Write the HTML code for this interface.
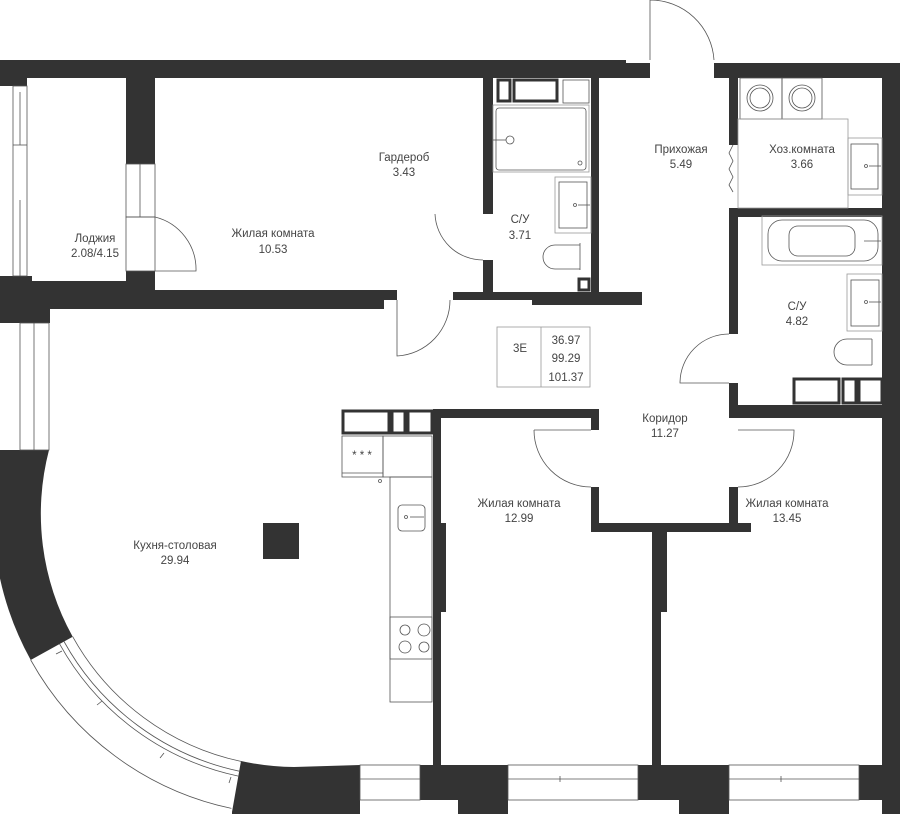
<!DOCTYPE html>
<html><head><meta charset="utf-8"><style>
html,body{margin:0;padding:0;background:#fff;}
svg{display:block}
text{font-family:"Liberation Sans",sans-serif;font-size:11.5px;fill:#444;text-anchor:middle}
</style></head><body>
<svg width="900" height="814" viewBox="0 0 900 814" xmlns="http://www.w3.org/2000/svg">
<g fill="#333">
<rect x="0" y="60" width="626" height="18"/>
<rect x="600" y="63" width="50" height="15"/>
<rect x="714" y="63" width="186" height="15"/>
<rect x="0" y="60" width="27" height="26"/>
<rect x="126" y="60" width="29" height="104"/>
<rect x="126" y="271" width="29" height="20"/>
<rect x="0" y="276" width="32" height="47"/>
<rect x="32" y="281" width="94" height="10"/>
<rect x="32" y="290" width="365" height="10"/>
<rect x="32" y="300" width="352" height="9"/>
<rect x="0" y="300" width="50" height="23"/>
<rect x="453" y="292" width="189" height="8"/>
<rect x="532" y="300" width="110" height="5"/>
<rect x="483" y="78" width="10" height="136"/>
<rect x="483" y="260" width="10" height="32"/>
<rect x="591" y="78" width="8" height="214"/>
<rect x="729" y="78" width="9" height="67"/>
<rect x="729" y="208" width="153" height="9"/>
<rect x="729" y="208" width="9" height="126"/>
<rect x="729" y="383" width="9" height="35"/>
<rect x="738" y="405" width="144" height="13"/>
<rect x="882" y="63" width="18" height="751"/>
<rect x="433" y="409" width="166" height="9"/>
<rect x="591" y="409" width="8" height="21"/>
<rect x="591" y="487" width="8" height="45"/>
<rect x="591" y="523" width="160" height="9"/>
<rect x="729" y="487" width="9" height="45"/>
<rect x="652" y="532" width="9" height="233"/>
<rect x="652" y="532" width="15" height="80"/>
<rect x="433" y="409" width="8" height="356"/>
<rect x="433" y="523" width="13" height="89"/>
<rect x="420" y="765" width="88" height="35"/>
<rect x="458" y="800" width="50" height="14"/>
<rect x="638" y="765" width="91" height="35"/>
<rect x="679" y="800" width="50" height="14"/>
<rect x="859" y="765" width="41" height="35"/>
<rect x="263" y="523" width="36" height="36"/>
<path d="M0,450 L49,450 A253,253 0 0 0 72.7,636.7 L30.7,660 A301,301 0 0 1 0,450 Z"/>
<path d="M232,812 L241,761 A253,253 0 0 0 294,767 L360,765 L360,814 L232,814 Z"/>
</g>
<g fill="none" stroke="#555" stroke-width="0.8">
<rect x="13" y="86" width="14" height="190"/>
<line x1="20" y1="92" x2="20" y2="145"/><line x1="13" y1="145" x2="27" y2="145"/>
<line x1="20" y1="200" x2="20" y2="276"/>
<rect x="126" y="164" width="29" height="53"/><line x1="140" y1="164" x2="140" y2="217"/>
<rect x="126" y="217" width="29" height="54"/>
<rect x="20" y="323" width="29" height="127"/><line x1="34" y1="323" x2="34" y2="450"/>
<path d="M30.7,660 A301,301 0 0 0 231.4,808.4"/>
<path d="M72.7,636.7 A253,253 0 0 0 241.4,761.5"/>
<path d="M64,641.5 A263,263 0 0 0 239.3,771.2"/>
<path d="M59.6,643.9 A268,268 0 0 0 238.3,776.1"/>
<line x1="56" y1="654" x2="62" y2="651"/><line x1="97" y1="705" x2="102" y2="701"/><line x1="160" y1="758" x2="164" y2="753"/><line x1="229" y1="783" x2="231" y2="777"/>
<rect x="360" y="765" width="60" height="35"/><line x1="360" y1="779" x2="420" y2="779"/>
<rect x="508" y="765" width="130" height="35"/><line x1="508" y1="779" x2="638" y2="779"/><line x1="560" y1="776" x2="560" y2="782"/>
<rect x="729" y="765" width="130" height="35"/><line x1="729" y1="779" x2="859" y2="779"/><line x1="781" y1="776" x2="781" y2="782"/>
<path d="M155,217 A54,54 0 0 1 196,271 L155,271"/>
<path d="M435,214 A48,48 0 0 0 483,260"/>
<path d="M397,300 L397,356 A56,56 0 0 0 450,300"/>
<path d="M650,0 L650,60 M650,0 A64,64 0 0 1 714,60"/>
<path d="M729,334 A49,49 0 0 0 680,383 L729,383"/>
<path d="M534,430 L591,430 M534,430 A57,57 0 0 0 591,487"/>
<path d="M738,430 L794,430 A56,56 0 0 1 738,487"/>
<path d="M733,145 l-4,8 l4,8 l-4,8 l4,8 l-4,8 l4,7"/>
<rect x="497" y="327" width="93" height="60" stroke="#999"/><line x1="541" y1="327" x2="541" y2="387" stroke="#999"/>
<rect x="493" y="105" width="96" height="67" stroke="#999"/>
<rect x="496" y="108" width="90" height="62" rx="3"/>
<circle cx="510" cy="140" r="4"/><line x1="493" y1="140" x2="506" y2="140"/>
<circle cx="580" cy="163" r="2"/>
<rect x="555" y="177" width="36" height="56" stroke="#999"/>
<rect x="559" y="182" width="28" height="46"/>
<circle cx="575" cy="205" r="1.5"/><line x1="578" y1="205" x2="590" y2="205"/>
<path d="M580,245 h-25 a12,12 0 0 0 0,24 h25" /><line x1="580" y1="243" x2="580" y2="270"/>
<rect x="563" y="80" width="26" height="23"/>
<rect x="342" y="436" width="41" height="41"/><line x1="342" y1="473" x2="383" y2="473"/>
<rect x="383" y="436" width="49" height="41"/>
<rect x="390" y="477" width="42" height="225"/>
<rect x="398" y="505" width="27" height="26" rx="4"/>
<circle cx="406" cy="517" r="1.5"/><line x1="410" y1="517" x2="424" y2="517"/>
<rect x="390" y="617" width="42" height="42"/>
<circle cx="405" cy="630" r="5"/><circle cx="424" cy="630" r="6"/>
<circle cx="405" cy="647" r="6"/><circle cx="424" cy="647" r="5"/>
<circle cx="380" cy="481" r="1.5"/>
<rect x="740" y="78" width="42" height="41"/><rect x="782" y="78" width="40" height="41"/>
<circle cx="760" cy="98" r="13"/><circle cx="760" cy="98" r="10"/>
<circle cx="802" cy="98" r="13"/><circle cx="802" cy="98" r="10"/>
<rect x="738" y="119" width="110" height="89" stroke="#999"/>
<rect x="848" y="138" width="34" height="57" stroke="#999"/>
<rect x="851" y="144" width="27" height="45"/>
<circle cx="866" cy="166" r="1.5"/><line x1="869" y1="166" x2="881" y2="166"/>
<rect x="762" y="216" width="120" height="49" stroke="#999"/>
<rect x="768" y="220" width="110" height="41" rx="14"/>
<rect x="789" y="226" width="66" height="30" rx="9"/>
<line x1="864" y1="241" x2="881" y2="241"/>
<rect x="847" y="274" width="35" height="57" stroke="#999"/>
<rect x="851" y="280" width="28" height="46"/>
<circle cx="866" cy="302" r="1.5"/><line x1="869" y1="302" x2="881" y2="302"/>
<path d="M872,339 h-25 a12,12 0 0 0 0,26 h25"/><line x1="872" y1="339" x2="872" y2="365"/>
</g>
<g fill="none" stroke="#333" stroke-width="3">
<rect x="498" y="80" width="12" height="21"/><rect x="514" y="80" width="43" height="21"/>
<rect x="343" y="411" width="46" height="22"/><rect x="392" y="411" width="13" height="22"/><rect x="408" y="411" width="24" height="22"/>
<rect x="794" y="379" width="45" height="24"/><rect x="843" y="379" width="13" height="24"/><rect x="859" y="379" width="23" height="24"/>
<rect x="579" y="279" width="10" height="11"/>
</g>
<text x="362" y="459" font-size="10">* * *</text>
<text x="404" y="161">Гардероб</text><text x="404" y="176">3.43</text>
<text x="273" y="237">Жилая комната</text><text x="273" y="253">10.53</text>
<text x="95" y="242">Лоджия</text><text x="95" y="257">2.08/4.15</text>
<text x="520" y="223">С/У</text><text x="520" y="239">3.71</text>
<text x="681" y="153">Прихожая</text><text x="681" y="168">5.49</text>
<text x="802" y="153">Хоз.комната</text><text x="802" y="168">3.66</text>
<text x="797" y="310">С/У</text><text x="797" y="325">4.82</text>
<text x="665" y="422">Коридор</text><text x="665" y="437">11.27</text>
<text x="519" y="507">Жилая комната</text><text x="519" y="522">12.99</text>
<text x="787" y="507">Жилая комната</text><text x="787" y="522">13.45</text>
<text x="175" y="549">Кухня-столовая</text><text x="175" y="564">29.94</text>
<text x="520" y="352" font-size="13">3E</text>
<text x="566" y="344" font-size="13">36.97</text>
<text x="566" y="362" font-size="13">99.29</text>
<text x="566" y="381" font-size="13">101.37</text>
</svg>
</body></html>
